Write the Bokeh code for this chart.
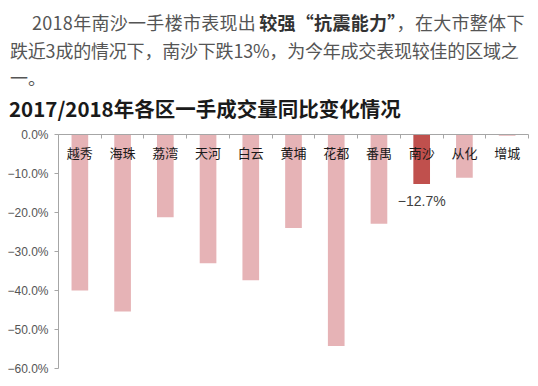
from bokeh.plotting import figure
from bokeh.layouts import column
from bokeh.models import Range1d, FixedTicker, CustomJSTickFormatter, ColumnDataSource, Div
from bokeh.core.properties import value
from bokeh.embed import file_html
from bokeh.resources import INLINE

# ---- data ----
districts = ["越秀", "海珠", "荔湾", "天河", "白云", "黄埔", "花都", "番禺", "南沙", "从化", "增城"]
changes = [-40.0, -45.4, -21.2, -33.0, -37.4, -24.0, -54.2, -22.9, -12.7, -11.1, -0.3]
highlight = "南沙"
y_ticks = [-60, -50, -40, -30, -20, -10, 0]

para_line1_a = "2018年南沙一手楼市表现出"
para_line1_b = "较强"
para_line1_q = "“抗震能力”"
para_line1_c = "，在大市整体下"
para_line2 = "跌近3成的情况下，南沙下跌13%，为今年成交表现较佳的区域之"
para_line3 = "一。"
chart_title = "2017/2018年各区一手成交量同比变化情况"

CJK = "Noto Sans CJK SC"
W = 538
H_TEXT = 126
H_CHART = 260

# ---- text block (HTML) ----
def line(txt, left, top, size=18, color="#555555", weight="normal", spacing=0):
    return (f'<div style="position:absolute;left:{left}px;top:{top}px;font-size:{size}px;'
            f'line-height:1;white-space:nowrap;color:{color};font-weight:{weight};'
            f'letter-spacing:{spacing}px;">{txt}</div>')

q_open, q_close = para_line1_q[0], para_line1_q[-1]
bold_part = (f'<b style="color:#333333;margin-left:3px">{para_line1_b}'
             f'<span style="font-feature-settings:\'fwid\'">{q_open}</span>{para_line1_q[1:-1]}'
             f'<span style="font-feature-settings:\'fwid\'">{q_close}</span></b>')
html = (f'<div lang="zh-CN" style="position:relative;width:{W}px;height:{H_TEXT}px;'
        f'font-family:\'{CJK}\';overflow:hidden;">'
        + line(para_line1_a + bold_part + para_line1_c, 32, 13, spacing=0.3)
        + line(para_line2, 10, 41, spacing=-0.2)
        + line(para_line3, 10, 68)
        + line(chart_title, 9, 98, size=20.5, color="#1a1a1a", weight="bold")
        + '</div>')
div = Div(text=html, width=W, height=H_TEXT, margin=0)

# ---- chart ----
n = len(districts)
xs = [i + 0.5 for i in range(n)]
colors = ["#C0504D" if d == highlight else "#E6B3B6" for d in districts]
src = ColumnDataSource(dict(x=xs, v=changes, c=colors, name=districts))

p = figure(width=W, height=H_CHART, output_backend="svg", toolbar_location=None,
           x_range=Range1d(0, n), y_range=Range1d(y_ticks[0], y_ticks[-1]),
           x_axis_location="above", min_border_left=58, min_border_right=10,
           min_border_top=8, min_border_bottom=18, margin=0)
p.outline_line_color = None
p.grid.visible = False

p.vbar(x="x", top=0, bottom="v", width=0.39, fill_color="c", line_color=None, source=src)

# top axis (category boundaries)
xa = p.xaxis[0]
xa.ticker = FixedTicker(ticks=list(range(n + 1)))
xa.major_tick_in = 4
xa.major_tick_out = 0
xa.minor_tick_line_color = None
xa.major_label_text_font_size = "1px"
xa.major_label_text_alpha = 0
xa.major_label_standoff = 0
xa.axis_line_color = "#A6A6A6"
xa.major_tick_line_color = "#A6A6A6"

ya = p.yaxis[0]
ya.ticker = FixedTicker(ticks=y_ticks)
ya.formatter = CustomJSTickFormatter(code="return (tick < 0 ? '\u2212' : '') + Math.abs(tick).toFixed(1) + '%';")
ya.major_tick_in = 0
ya.major_tick_out = 4
ya.minor_tick_line_color = None
ya.axis_line_color = "#A6A6A6"
ya.major_tick_line_color = "#A6A6A6"
ya.major_label_text_font = "Liberation Sans"
ya.major_label_text_font_size = "12px"
ya.major_label_text_color = "#555555"
ya.major_label_standoff = 6

# category labels under the top axis
p.text(x="x", y=0, text="name", source=src, y_offset=18, text_font=value(CJK),
       text_font_size="13px", text_color="#1a1a1a", text_align="center", text_baseline="middle")

# value label for highlighted district
hi = districts.index(highlight)
lab = ColumnDataSource(dict(x=[xs[hi]], y=[changes[hi]],
                            t=["\u2212" + f"{abs(changes[hi]):.1f}%"]))
p.text(x="x", y="y", text="t", source=lab, y_offset=17, text_font=value("Liberation Sans"),
       text_font_size="14px", text_color="#404040", text_align="center", text_baseline="middle")

layout = column(div, p, spacing=0, margin=0)
open("out.html", "w").write(file_html(layout, INLINE))
